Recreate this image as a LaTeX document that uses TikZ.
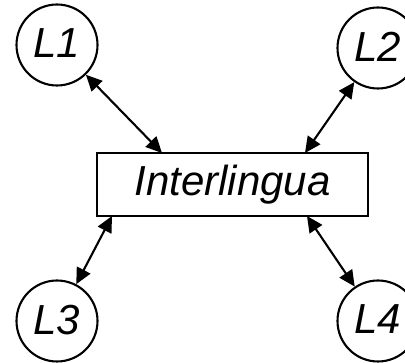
\documentclass[tikz,border=0pt]{standalone}
\usepackage{fontspec}
\setmainfont{Liberation Sans}
\usetikzlibrary{arrows.meta}
\begin{document}
\begin{tikzpicture}[x=1pt,y=-1pt,
  lang/.style={circle,draw,line width=2.1pt,minimum size=81pt,inner sep=0pt,
    font=\fontsize{42}{42}\selectfont\itshape},
  box/.style={rectangle,draw,line width=2.1pt,minimum width=271pt,minimum height=63pt,inner sep=0pt,
    font=\fontsize{42}{42}\selectfont\itshape},
  link/.style={line width=2.1pt,{Triangle[length=16pt,width=15pt]}-{Triangle[length=16pt,width=15pt]}}]
\useasboundingbox (0,0) rectangle (405,363);
\node[lang] (L1) at (57,45) {\raisebox{3pt}{L1}};
\node[lang] (L2) at (378,48) {\raisebox{3pt}{L2}};
\node[lang] (L3) at (57,321) {\raisebox{3pt}{L3}};
\node[lang] (L4) at (378,321) {\raisebox{3pt}{L4}};
\node[box] (R) at (232.5,184.5) {Interlingua};
\coordinate (r1) at (162,153);
\coordinate (r2) at (305,153);
\coordinate (r3) at (112,216);
\coordinate (r4) at (307,216);
\draw[link] (r1) -- (L1);
\draw[link] (r2) -- (L2);
\draw[link] (r3) -- (L3);
\draw[link] (r4) -- (L4);
\end{tikzpicture}
\end{document}
